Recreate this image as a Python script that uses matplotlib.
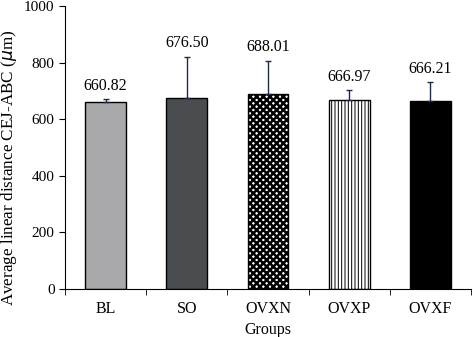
import matplotlib.pyplot as plt
import numpy as np

plt.rcParams['font.family'] = ['Liberation Serif', 'DejaVu Serif']

groups = ["BL", "SO", "OVXN", "OVXP", "OVXF"]
means = [660.82, 676.50, 688.01, 666.97, 666.21]
errors = [10, 144, 118, 36, 65]
labels = ["660.82", "676.50", "688.01", "666.97", "666.21"]
colors = ["#a9a9ab", "#4a4d50", "white", "white", "black"]
hatches = [None, None, "xxxxx", "|||||", None]
hatch_lw = [1.0, 1.0, 1.8, 0.7, 1.0]

fig = plt.figure(figsize=(4.73, 3.37), dpi=100)
ax = fig.add_axes([0.1374, 0.1424, 0.8584, 0.8396])

x = np.arange(len(groups))
for i in range(len(groups)):
    with plt.rc_context({"hatch.linewidth": hatch_lw[i]}):
        ax.bar(x[i], means[i], width=0.5, color=colors[i], edgecolor="black",
               linewidth=1.0, hatch=hatches[i], zorder=2)
    ax.errorbar(x[i], means[i], yerr=[[0], [errors[i]]], fmt="none",
                ecolor="#1d2b4a", elinewidth=1.0, capsize=2.5, capthick=1.0, zorder=3)
    ax.annotate(labels[i], (x[i], means[i] + errors[i]), xytext=(0, 4),
                textcoords="offset points", ha="center", va="bottom", fontsize=11.5)

ax.set_xlim(-0.5, 4.5)
ax.set_ylim(0, 1000)
ax.set_yticks([0, 200, 400, 600, 800, 1000])
ax.set_xticks(x)
ax.set_xticklabels(groups)
ax.set_xticks(np.arange(-0.5, 5, 1), minor=True)
ax.tick_params(axis="x", which="major", length=0, pad=8.5, labelsize=11.5)
ax.tick_params(axis="x", which="minor", length=4, direction="out")
ax.tick_params(axis="y", length=4, direction="out", labelsize=11)
ax.spines["top"].set_visible(False)
ax.spines["right"].set_visible(False)
ax.set_xlabel("Groups", fontsize=11.5, va="top")
ax.xaxis.set_label_coords(0.5, -0.117)
ax.set_ylabel("Average linear distance CEJ-ABC ($\\mu$m)", fontsize=12.3)
ax.yaxis.set_label_coords(-0.113, 0.428)

plt.savefig("out.png", dpi=100)
